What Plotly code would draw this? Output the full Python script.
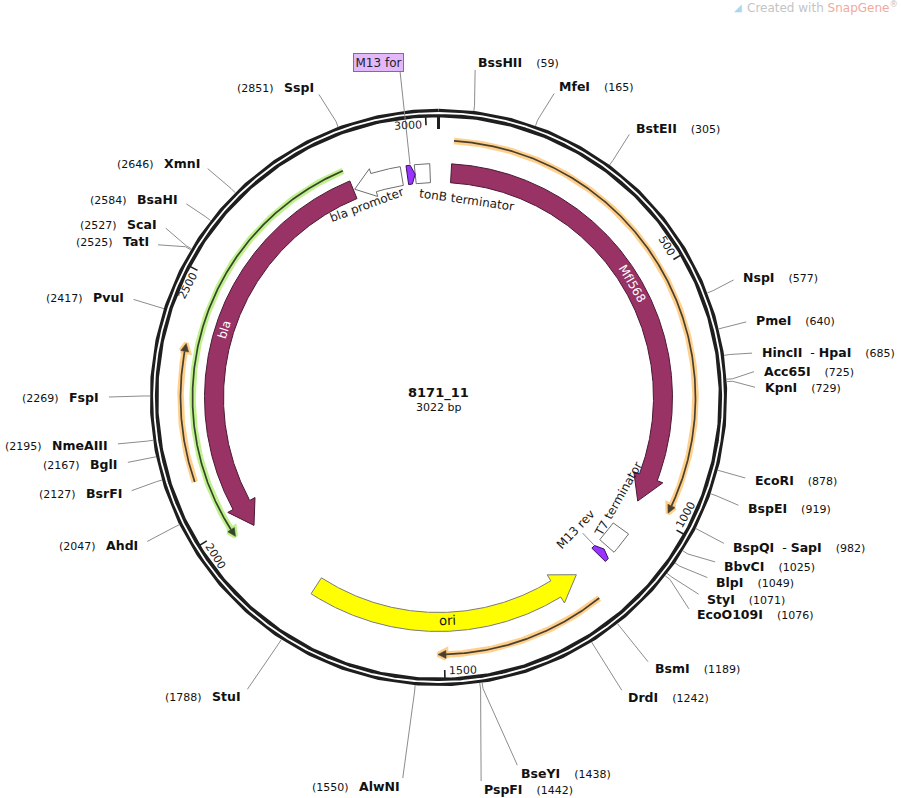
import math
import numpy as np
import plotly.graph_objects as go

# ---------------- data ----------------
plasmid_name = "8171_11"
plasmid_length = 3022

feature_names = ["MfI568", "bla", "ori", "bla promoter", "tonB terminator",
                 "T7 terminator", "M13 for", "M13 rev"]
feature_starts = [27, 1975, 1193, 2838, 2972, 1055, 2955, 1112]
feature_ends = [986, 2835, 1788, 2943, 3004, 1103, 2972, 1129]
feature_strands = [1, -1, -1, -1, 0, 0, 1, -1]

orf_starts = [29, 1978, 2106, 1186]
orf_ends = [980, 2830, 2368, 1512]
orf_strands = [1, -1, 1, 1]

enzyme_names = ["BssHII", "MfeI", "BstEII", "NspI", "PmeI", "HincII - HpaI", "Acc65I",
                "KpnI", "EcoRI", "BspEI", "BspQI - SapI", "BbvCI", "BlpI", "StyI",
                "EcoO109I", "BsmI", "DrdI", "BseYI", "PspFI", "AlwNI", "StuI", "AhdI",
                "BsrFI", "BglI", "NmeAIII", "FspI", "PvuI", "TatI", "ScaI", "BsaHI",
                "XmnI", "SspI"]
enzyme_sites = [59, 165, 305, 577, 640, 685, 725, 729, 878, 919, 982, 1025, 1049, 1071,
                1076, 1189, 1242, 1438, 1442, 1550, 1788, 2047, 2127, 2167, 2195, 2269,
                2417, 2525, 2527, 2584, 2646, 2851]

tick_values = [500, 1000, 1500, 2000, 2500, 3000]

# ---------------- layout / style ----------------
W, H = 902, 798
CX, CY = 438.5, 397.5
R_RING = 284.5
R_OUT = 288.5
R_IN = 280.5
R1, R2 = 215.0, 234.0
FONT = "DejaVu Sans"

feature_style = {
    "MfI568": dict(fill="#993366", line="#4a1a33", head=26, flare=6),
    "bla": dict(fill="#993366", line="#4a1a33", head=24, flare=6),
    "ori": dict(fill="#ffff00", line="#7a7a7a", head=25, flare=7),
    "bla promoter": dict(fill="#ffffff", line="#6e6e6e", head=20, flare=5),
    "tonB terminator": dict(fill="#ffffff", line="#6e6e6e", head=0, flare=0),
    "T7 terminator": dict(fill="#ffffff", line="#6e6e6e", head=0, flare=0),
    "M13 for": dict(fill="#9933ff", line="#3a1060", head=4, flare=0),
    "M13 rev": dict(fill="#9933ff", line="#3a1060", head=4, flare=0),
}
# (bp position of label, radius, colour, size)
feature_label_place = {
    "MfI568": (500, 225, "white", 12),
    "bla": (2414, 225, "white", 12),
    "ori": (1492, 223, "#111111", 13),
    "bla promoter": (2850, 205, "#1a1a1a", 12),
    "tonB terminator": (68, 200, "#1a1a1a", 12),
    "T7 terminator": (1003, 207, "#1a1a1a", 12),
    "M13 rev": (1122, 190, "#1a1a1a", 12),
}
orf_style = [
    dict(r=257, glow="rgba(255,200,120,0.85)", core="#4a4030"),
    dict(r=246, glow="rgba(185,240,130,0.9)", core="#36452a"),
    dict(r=258, glow="rgba(255,200,120,0.85)", core="#4a4030"),
    dict(r=257, glow="rgba(255,200,120,0.85)", core="#4a4030"),
]
# label anchor (x, y, side) : right side -> x is left edge of name; left -> right edge
enzyme_label_xy = [
    (476, 62, "R"), (557, 86, "R"), (634, 128, "R"), (741, 277, "R"), (754, 320, "R"),
    (760, 352, "R"), (762, 371, "R"), (763, 387, "R"), (753, 480, "R"), (746, 508, "R"),
    (731, 547, "R"), (722, 566, "R"), (714, 582, "R"), (705, 599, "R"), (695, 614, "R"),
    (653, 668, "R"), (626, 697, "R"), (519, 773, "R"), (482, 789, "R"), (402, 786, "L"),
    (243, 696, "L"), (140, 545, "L"), (124, 493, "L"), (120, 464, "L"), (110, 445, "L"),
    (101, 397, "L"), (126, 297, "L"), (151, 241, "L"), (159, 224, "L"), (180, 199, "L"),
    (202, 163, "L"), (316, 87, "L"),
]

TOT = plasmid_length


def ang(bp):
    return 2 * math.pi * np.asarray(bp, dtype=float) / TOT


def pt(bp, r):
    a = ang(bp)
    return CX + r * np.sin(a), CY - r * np.cos(a)


def arc(b0, b1, r, step=2.0):
    n = max(2, int(abs(b1 - b0) / step) + 1)
    bps = np.linspace(b0, b1, n)
    x, y = pt(bps, r)
    return list(x), list(y)


def bp_per_px(r):
    return TOT / (2 * math.pi * r)


def tangent_rot(bp):
    d = bp / TOT * 360.0
    if 90 < d < 270:
        d -= 180
    return ((d + 180) % 360) - 180


fig = go.Figure()


def add_poly(xs, ys, fill, line, width=1.0):
    fig.add_trace(go.Scatter(x=xs, y=ys, mode="lines", fill="toself", fillcolor=fill,
                             line=dict(color=line, width=width), hoverinfo="skip"))


def add_line(xs, ys, color, width):
    fig.add_trace(go.Scatter(x=xs, y=ys, mode="lines", line=dict(color=color, width=width),
                             hoverinfo="skip"))


# ----- ring -----
rx, ry = arc(0, TOT, R_RING, step=3)
add_line(rx, ry, "#1e1e1e", 8.5)
add_line(rx, ry, "#ffffff", 1.8)

# ----- ticks -----
tx, ty = [], []
for v in tick_values:
    x0, y0 = pt(v, R_IN)
    x1, y1 = pt(v, R_IN - 8)
    tx += [float(x0), float(x1), None]
    ty += [float(y0), float(y1), None]
add_line(tx, ty, "#1e1e1e", 1.6)
zx0, zy0 = pt(0, R_IN + 1)
zx1, zy1 = pt(0, R_IN - 12)
add_line([float(zx0), float(zx1)], [float(zy0), float(zy1)], "#1e1e1e", 3)

annotations = []
for v in tick_values:
    s = str(v)
    w = len(s) * 0.636 * 11
    a = float(ang(v))
    bx, by = pt(v, R_IN - 7)
    off = w / 2 + 4
    tx_, ty_ = -math.cos(a), -math.sin(a)
    annotations.append(dict(x=float(bx) + tx_ * off, y=float(by) + ty_ * off, text=s,
                            textangle=tangent_rot(v), showarrow=False,
                            font=dict(family=FONT, size=11, color="#1a1a1a"),
                            xanchor="center", yanchor="middle"))

# ----- ORFs -----
for s, e, st, sty in zip(orf_starts, orf_ends, orf_strands, orf_style):
    r = sty["r"]
    hb = 8 * bp_per_px(r)
    if st == 1:
        lx, ly = arc(s, e - hb, r)
        bx1, by1 = pt(e - hb, r + 4)
        bx2, by2 = pt(e - hb, r - 4)
        tipx, tipy = pt(e, r)
    else:
        lx, ly = arc(e, s + hb, r)
        bx1, by1 = pt(s + hb, r + 4)
        bx2, by2 = pt(s + hb, r - 4)
        tipx, tipy = pt(s, r)
    trix = [float(bx1), float(tipx), float(bx2), float(bx1)]
    triy = [float(by1), float(tipy), float(by2), float(by1)]
    add_line(lx, ly, sty["glow"], 6.5)
    add_poly(trix, triy, sty["glow"], sty["glow"], 5)
    add_line(lx, ly, sty["core"], 1.7)
    add_poly(trix, triy, sty["core"], sty["core"], 0.5)

# ----- features -----
for name, s, e, st in zip(feature_names, feature_starts, feature_ends, feature_strands):
    sty = feature_style[name]
    rc = (R1 + R2) / 2
    hb = sty["head"] * bp_per_px(rc)
    f = sty["flare"]
    if st == 1 and hb > 0:
        be = max(s, e - hb)
        ox, oy = arc(s, be, R2)
        ix, iy = arc(be, s, R1)
        h1 = pt(be, R2 + f)
        tip = pt(e, rc)
        h2 = pt(be, R1 - f)
        xs = ox + [float(h1[0]), float(tip[0]), float(h2[0])] + ix + [ox[0]]
        ys = oy + [float(h1[1]), float(tip[1]), float(h2[1])] + iy + [oy[0]]
    elif st == -1 and hb > 0:
        bs = min(e, s + hb)
        ox, oy = arc(bs, e, R2)
        ix, iy = arc(e, bs, R1)
        h1 = pt(bs, R1 - f)
        tip = pt(s, rc)
        h2 = pt(bs, R2 + f)
        xs = ox + ix + [float(h1[0]), float(tip[0]), float(h2[0])] + [ox[0]]
        ys = oy + iy + [float(h1[1]), float(tip[1]), float(h2[1])] + [oy[0]]
    else:
        ox, oy = arc(s, e, R2)
        ix, iy = arc(e, s, R1)
        xs = ox + ix + [ox[0]]
        ys = oy + iy + [oy[0]]
    add_poly(xs, ys, sty["fill"], sty["line"], 1.0)

# feature labels
for name in feature_names:
    if name not in feature_label_place:
        continue
    bp, r, col, size = feature_label_place[name]
    x, y = pt(bp, r)
    annotations.append(dict(x=float(x), y=float(y), text=name, textangle=tangent_rot(bp),
                            showarrow=False, font=dict(family=FONT, size=size, color=col),
                            xanchor="center", yanchor="middle"))

# M13 rev leader
i_rev = feature_names.index("M13 rev")
mid_rev = (feature_starts[i_rev] + feature_ends[i_rev]) / 2
p0 = pt(mid_rev, R1 - 1)
p1 = pt(mid_rev - 2, 198)
add_line([float(p0[0]), float(p1[0])], [float(p0[1]), float(p1[1])], "#8a8a8a", 1)

# M13 for label box + leader
i_for = feature_names.index("M13 for")
mid_for = (feature_starts[i_for] + feature_ends[i_for]) / 2
pf = pt(mid_for, R2 + 1)
add_line([400.0, float(pf[0])], [71.0, float(pf[1])], "#8a8a8a", 1)
annotations.append(dict(x=378, y=62.5, text="M13 for", showarrow=False,
                        font=dict(family=FONT, size=12, color="#222222"),
                        bgcolor="#e2b8fb", bordercolor="#a24fd6", borderwidth=1, borderpad=1.5,
                        xanchor="center", yanchor="middle"))

# ----- enzyme sites -----
SP = "\u00a0"
lx_all, ly_all = [], []
for name, site, (lx, ly, side) in zip(enzyme_names, enzyme_sites, enzyme_label_xy):
    sx, sy = pt(site, R_OUT)
    mx, my = pt(site, R_OUT + 6)
    dx, dy = CX - lx, CY - ly
    dn = math.hypot(dx, dy)
    ex, ey = lx + dx / dn * 8, ly + dy / dn * 8
    lx_all += [float(sx), float(mx), ex, None]
    ly_all += [float(sy), float(my), ey, None]
    bold = "<b>" + name.replace(" - ", "</b>" + SP + " - <b>") + "</b>"
    if side == "R":
        txt = bold + "<span style='font-size:11px'>" + SP * 4 + "(%d)</span>" % site
        xa = "left"
    else:
        txt = "<span style='font-size:11px'>(%d)" % site + SP * 3 + "</span>" + bold
        xa = "right"
    annotations.append(dict(x=lx, y=ly, text=txt, showarrow=False, xanchor=xa, yanchor="middle",
                            font=dict(family=FONT, size=12.5, color="#111111")))
add_line(lx_all, ly_all, "#8c8c8c", 1)

# ----- centre text -----
annotations.append(dict(x=CX, y=392.5, text="<b>%s</b>" % plasmid_name, showarrow=False,
                        font=dict(family=FONT, size=13, color="#111111"),
                        xanchor="center", yanchor="middle"))
annotations.append(dict(x=CX, y=407.5, text="%d bp" % plasmid_length, showarrow=False,
                        font=dict(family=FONT, size=11, color="#111111"),
                        xanchor="center", yanchor="middle"))

# watermark
annotations.append(dict(x=900, y=7, text="Created with <span style='color:#f2a99e'>SnapGene</span><sup>®</sup>",
                        showarrow=False, xanchor="right", yanchor="middle",
                        font=dict(family=FONT, size=12, color="#c4c4c4")))
annotations.append(dict(x=738, y=7, text="◢", showarrow=False, xanchor="center", yanchor="middle",
                        font=dict(family=FONT, size=10, color="#a8d8f0")))

fig.update_layout(
    width=W, height=H, margin=dict(l=0, r=0, t=0, b=0, pad=0),
    paper_bgcolor="white", plot_bgcolor="white", showlegend=False,
    xaxis=dict(range=[0, W], visible=False, fixedrange=True),
    yaxis=dict(range=[H, 0], visible=False, fixedrange=True),
    annotations=annotations,
    font=dict(family=FONT),
)

fig.write_html("out.html", config={"displayModeBar": False, "staticPlot": True},
               post_script="document.body.style.margin='0px';document.body.style.overflow='hidden';")
